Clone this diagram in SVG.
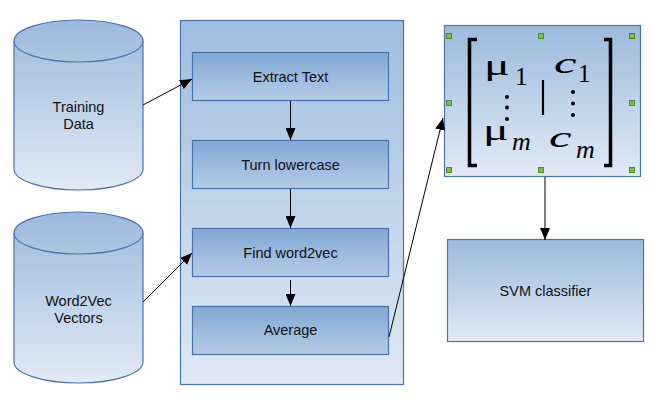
<svg xmlns="http://www.w3.org/2000/svg" width="652" height="405" viewBox="0 0 652 405">
<defs>
<linearGradient id="gCyl" x1="0" y1="0" x2="0" y2="1">
<stop offset="0" stop-color="#9bbadd"/><stop offset="1" stop-color="#e2eaf5"/>
</linearGradient>
<linearGradient id="gCont" x1="0" y1="0" x2="0" y2="1">
<stop offset="0" stop-color="#9fbddf"/><stop offset="1" stop-color="#e0e9f4"/>
</linearGradient>
<linearGradient id="gBox" x1="0" y1="0" x2="0" y2="1">
<stop offset="0" stop-color="#81a8d4"/><stop offset="1" stop-color="#b5cbe7"/>
</linearGradient>
<marker id="arr" viewBox="0 0 12 10" refX="12" refY="5" markerWidth="12" markerHeight="10" markerUnits="userSpaceOnUse" orient="auto">
<path d="M0,0 L12,5 L0,10 Z" fill="#000"/>
</marker>
<style>
.shape{stroke:#4a72ac;stroke-width:1.2}
.lbl{font-family:"Liberation Sans",Arial,sans-serif;font-size:14.5px;fill:#111;text-anchor:middle}
.conn{stroke:#000;stroke-width:1;fill:none}
.h{fill:#7cbf44;stroke:#4f8f22;stroke-width:1}
.mx{font-family:"Liberation Serif","Times New Roman",serif;fill:#000}
</style>
</defs>

<g id="training-data">
<path class="shape" fill="url(#gCyl)" d="M14,41 L14,169 A64.5,21 0 0 0 143,169 L143,41 A64.5,21 0 0 0 14,41 Z"/>
<path class="shape" fill="none" d="M14,41 A64.5,21 0 0 0 143,41"/>
<text class="lbl" x="78.5" y="112">Training</text>
<text class="lbl" x="78.5" y="129">Data</text>
</g>

<g id="word2vec-vectors">
<path class="shape" fill="url(#gCyl)" d="M14,233 L14,362 A64.5,21 0 0 0 143,362 L143,233 A64.5,21 0 0 0 14,233 Z"/>
<path class="shape" fill="none" d="M14,233 A64.5,21 0 0 0 143,233"/>
<text class="lbl" x="78.5" y="306">Word2Vec</text>
<text class="lbl" x="78.5" y="323">Vectors</text>
</g>

<g id="pipeline">
<rect class="shape" fill="url(#gCont)" x="180.5" y="20.5" width="223" height="364"/>
</g>

<g id="extract-text">
<rect class="shape" fill="url(#gBox)" x="192.5" y="52.5" width="196" height="48"/>
<text class="lbl" x="290.5" y="82">Extract Text</text>
</g>
<g id="turn-lowercase">
<rect class="shape" fill="url(#gBox)" x="192.5" y="140.5" width="196" height="48"/>
<text class="lbl" x="290.5" y="170">Turn lowercase</text>
</g>
<g id="find-word2vec">
<rect class="shape" fill="url(#gBox)" x="192.5" y="228.5" width="196" height="48"/>
<text class="lbl" x="290.5" y="258">Find word2vec</text>
</g>
<g id="average">
<rect class="shape" fill="url(#gBox)" x="192.5" y="306.5" width="196" height="48"/>
<text class="lbl" x="290.5" y="335">Average</text>
</g>

<g id="matrix">
<rect class="shape" fill="url(#gCyl)" x="444.5" y="25.5" width="196" height="151"/>
<path d="M477,39.5 H469.5 V165.5 H477" fill="none" stroke="#000" stroke-width="3.5"/>
<path d="M604,39.5 H610.5 V165.5 H604" fill="none" stroke="#000" stroke-width="3.5"/>
<text class="mx" transform="translate(484,75) scale(1.6,1)" font-size="30">μ</text>
<text class="mx" x="515" y="85" font-size="25">1</text>
<text class="mx" transform="translate(554,73) scale(1.7,1)" font-size="30" font-style="italic">c</text>
<text class="mx" x="578" y="82" font-size="25">1</text>
<line x1="543" y1="80" x2="543" y2="115" stroke="#000" stroke-width="2.2"/>
<circle cx="507" cy="97" r="2"/><circle cx="507" cy="107.5" r="2"/><circle cx="507" cy="119" r="2"/>
<circle cx="573" cy="92" r="2"/><circle cx="573" cy="103.5" r="2"/><circle cx="573" cy="115" r="2"/>
<text class="mx" transform="translate(483,140) scale(1.6,1)" font-size="30">μ</text>
<text class="mx" x="512" y="150" font-size="26" font-style="italic">m</text>
<text class="mx" transform="translate(549,147) scale(1.7,1)" font-size="30" font-style="italic">c</text>
<text class="mx" x="576" y="158" font-size="26" font-style="italic">m</text>
<rect class="h" x="446.5" y="33.5" width="5" height="5"/>
<rect class="h" x="538.5" y="33.5" width="5" height="5"/>
<rect class="h" x="629.5" y="33.5" width="5" height="5"/>
<rect class="h" x="446.5" y="100.5" width="5" height="5"/>
<rect class="h" x="629.5" y="100.5" width="5" height="5"/>
<rect class="h" x="446.5" y="167.5" width="5" height="5"/>
<rect class="h" x="538.5" y="167.5" width="5" height="5"/>
<rect class="h" x="629.5" y="167.5" width="5" height="5"/>
</g>

<g id="svm-classifier">
<rect class="shape" fill="url(#gCyl)" x="447.5" y="239.5" width="196" height="102"/>
<text class="lbl" x="545.5" y="296">SVM classifier</text>
</g>

<g id="connectors">
<line class="conn" x1="143" y1="105" x2="192" y2="79" marker-end="url(#arr)"/>
<line class="conn" x1="143" y1="302" x2="192" y2="253" marker-end="url(#arr)"/>
<line class="conn" x1="290.5" y1="101" x2="290.5" y2="140" marker-end="url(#arr)"/>
<line class="conn" x1="290.5" y1="189" x2="290.5" y2="228" marker-end="url(#arr)"/>
<line class="conn" x1="290.5" y1="280" x2="290.5" y2="306" marker-end="url(#arr)"/>
<line class="conn" x1="389" y1="337" x2="443" y2="118" marker-end="url(#arr)"/>
<line class="conn" x1="545" y1="177" x2="545" y2="240" marker-end="url(#arr)"/>
</g>
</svg>
